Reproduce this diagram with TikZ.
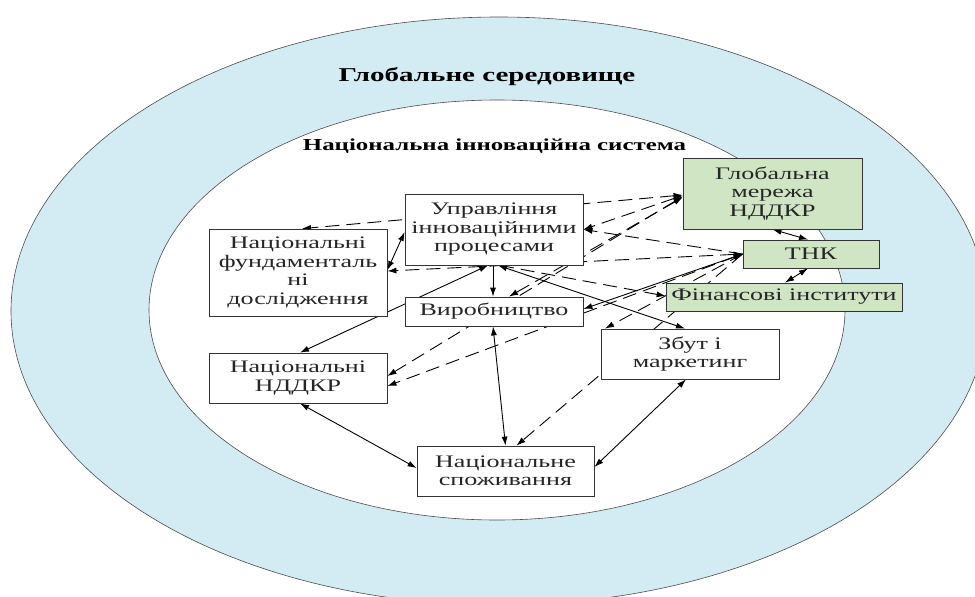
\documentclass[tikz,border=0pt]{standalone}
\usepackage{fontspec}
\setmainfont{Liberation Serif}[FakeStretch=1.48]
\usetikzlibrary{arrows.meta,calc}
\pgfdeclarelayer{bg}
\pgfdeclarelayer{conn}
\pgfsetlayers{bg,conn,main}
\definecolor{outerblue}{RGB}{211,236,243}
\definecolor{boxgreen}{RGB}{207,229,195}
\begin{document}
\begin{tikzpicture}[x=1pt,y=-1pt,
  box/.style={draw=black!80, line width=0.8pt, fill=white, inner sep=0pt, align=center,
    font=\fontsize{17.6}{18.5}\selectfont, text=black!85},
  gbox/.style={box, fill=boxgreen},
  tip/.tip={Latex[length=9pt,width=6pt]},
  sl/.style={line width=0.9pt, black},
  dl/.style={line width=0.9pt, black, dash pattern=on 14pt off 7pt},
  ttl/.style={inner sep=0pt}
]
\useasboundingbox (0,0) rectangle (975,597);
\begin{pgfonlayer}{bg}
\draw[fill=outerblue, draw=black!70, line width=0.6pt] (499,311) ellipse [x radius=488pt, y radius=294pt];
\draw[fill=white, draw=black!70, line width=0.6pt] (497,310) ellipse [x radius=348pt, y radius=210pt];
\end{pgfonlayer}

\node[ttl, font=\fontsize{19.6}{20}\selectfont\bfseries] (tglob) at (487,77) {Глобальне середовище};
\node[ttl, font=\fontsize{16.8}{18}\selectfont\bfseries] (tnis) at (494.5,146) {Національна інноваційна система};

\node[box, minimum width=178pt, minimum height=71pt] (upr) at (494,229.5) {Управління\\інноваційними\\процесами};
\node[box, minimum width=178pt, minimum height=87pt] (fund) at (298,272.5) {Національні\\фундаменталь\\ні\\дослідження};
\node[box, minimum width=178pt, minimum height=29pt] (vyr) at (494,311.5) {Виробництво};
\node[box, minimum width=178pt, minimum height=50pt] (nddkr) at (298,378) {Національні\\НДДКР};
\node[box, minimum width=178pt, minimum height=50pt] (zbut) at (690,354) {Збут і\\маркетинг};
\node[box, minimum width=177pt, minimum height=50pt] (spoz) at (505.5,471) {Національне\\споживання};
\node[gbox, minimum width=179pt, minimum height=71pt] (glob) at (772.5,193.5) {Глобальна\\мережа\\НДДКР};
\node[gbox, minimum width=136pt, minimum height=28pt] (tnk) at (811,254) {ТНК};
\node[gbox, minimum width=236pt, minimum height=28pt] (fin) at (784,297) {Фінансові інститути};

\begin{pgfonlayer}{conn}
% solid
\draw[sl, tip-tip] ([yshift=2.5pt]fund.east) -- ([yshift=-2.5pt]upr.west);
\draw[sl, -tip] ([xshift=-1pt]upr.south) -- ([xshift=-1pt]vyr.north);
\draw[sl, tip-tip] ([xshift=2pt]nddkr.north) -- ([xshift=-6pt]upr.south);
\draw[sl, tip-tip] ([xshift=4pt]upr.south) -- ([xshift=-5pt]zbut.north);
\draw[sl, tip-tip] ([xshift=-1pt]vyr.south) -- (spoz.north);
\draw[sl, tip-tip] ([xshift=2pt]nddkr.south) -- ([yshift=3pt]spoz.west);
\draw[sl, tip-tip] ([xshift=-4pt]zbut.south) -- ([yshift=4pt]spoz.east);
\draw[sl, tip-tip] (glob.south) -- ([xshift=-3pt]tnk.north);
\draw[sl, tip-tip] ([xshift=-3pt]tnk.south) -- ([xshift=1pt]fin.north);
\draw[sl, tip-tip] (tnk.west) -- ([yshift=2.5pt]vyr.east);
% dashed
\draw[dl, tip-tip] ([yshift=-1.5pt]glob.west) -- ([xshift=4pt]fund.north);
\draw[dl, tip-tip] ([yshift=-2pt]glob.west) -- (upr.east);
\draw[dl, -tip] (tnk.west) -- (upr.east);
\draw[dl, tip-tip] (tnk.west) -- ([yshift=1.5pt]fund.east);
\draw[dl, -tip] ([xshift=6pt]upr.south) -- ([yshift=1pt]fin.west);
\draw[dl, tip-tip] ([yshift=-3pt]glob.west) -- ([yshift=2pt]nddkr.east);
\draw[dl, tip-tip] (tnk.west) -- ([yshift=-8pt]nddkr.east);
\draw[dl, -tip] (tnk.west) -- ([xshift=-85pt]zbut.north);
\draw[dl, -tip] (tnk.west) -- ([xshift=11pt]spoz.north);
\draw[dl, tip-tip] ([yshift=-4pt]glob.west) -- ([xshift=15pt]vyr.north);
\end{pgfonlayer}
\end{tikzpicture}
\end{document}
